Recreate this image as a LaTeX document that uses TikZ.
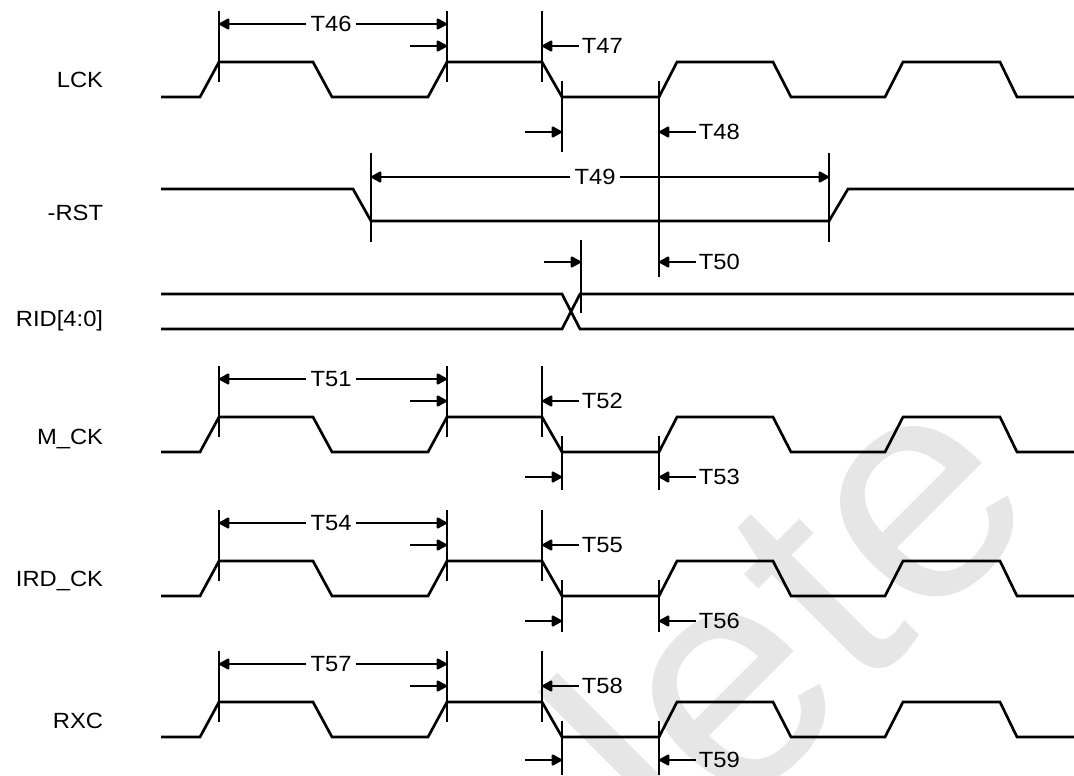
\documentclass[tikz,border=0pt]{standalone}
\usepackage{fontspec}
\setmainfont{Liberation Sans}
\newfontfamily\lblfont[FakeStretch=1.08]{Liberation Sans}
\usetikzlibrary{arrows.meta}
\definecolor{wmgrey}{HTML}{E6E6E6}
\tikzset{
  every picture/.style={x=0.75pt, y=-0.75pt},
  wave/.style={line width=2pt},
  tick/.style={line width=2pt},
  dim/.style={line width=1.4pt, -{Triangle[length=8.5pt, width=9pt, round]}},
  lbl/.style={font=\lblfont\fontsize{16.5}{18}\selectfont, inner sep=2pt},
  sig/.style={lbl, anchor=east},
}

\begin{document}
\begin{tikzpicture}
  \useasboundingbox (0,0) rectangle (1074,775);
  % watermark
  \node[text=wmgrey, rotate=45, anchor=base, font=\fontsize{238}{238}\selectfont] (wm) at (866,690) {lete};
  % clock rows: LCK, M_CK, IRD_CK, RXC
  \foreach \n/\yh/\ly/\lab/\a/\b/\c/\lo/\db/\eb in
    {1/62/80/LCK/46/47/48/132/152/277, 2/417/439/M\_CK/51/52/53/477/490/490,
     3/561/581/IRD\_CK/54/55/56/621/632/632, 4/702/721/RXC/57/58/59/760/775/775}
  { \pgfmathsetmacro\yl{\yh+35}
    \node[sig] (s\n) at (106,\ly) {\lab};
    \draw[wave] (161,\yl) -- (200,\yl) -- (219,\yh) -- (313,\yh) -- (332,\yl) -- (428,\yl)
      -- (447,\yh) -- (542,\yh) -- (562,\yl) -- (659,\yl) -- (677,\yh) -- (773,\yh)
      -- (791,\yl) -- (885,\yl) -- (903,\yh) -- (1000,\yh) -- (1017,\yl) -- (1074,\yl);
    \draw[tick] (219,\yh-51) -- (219,\yh+20);
    \draw[tick] (447,\yh-51) -- (447,\yh+20);
    \draw[tick] (542,\yh-51) -- (542,\yh+20);
    \draw[tick] (562,\yh+19) -- (562,\db);
    \draw[tick] (659,\yh+19) -- (659,\eb);
    \coordinate (pa\n) at (219,\yh-38);
    \coordinate (pb\n) at (447,\yh-38);
    \coordinate (qs\n) at (410,\yh-16);
    \coordinate (qb\n) at (447,\yh-16);
    \coordinate (qc\n) at (542,\yh-16);
    \coordinate (rs\n) at (525,\lo);
    \coordinate (rd\n) at (562,\lo);
    \coordinate (re\n) at (659,\lo);
    \node[lbl, inner xsep=3pt] (t\a) at (331,\yh-38) {T\a};
    \draw[dim] (t\a.west) -- (pa\n);
    \draw[dim] (t\a.east) -- (pb\n);
    \draw[dim] (qs\n) -- (qb\n);
    \node[lbl, anchor=west] (t\b) at (579,\yh-16) {T\b};
    \draw[dim] (t\b.west) -- (qc\n);
    \draw[dim] (rs\n) -- (rd\n);
    \node[lbl, anchor=west] (t\c) at (696,\lo) {T\c};
    \draw[dim] (t\c.west) -- (re\n);
  }
  % -RST
  \node[sig] (srst) at (106,213) {-RST};
  \draw[wave] (161,189) -- (353,189) -- (371,221) -- (829,221) -- (848,189) -- (1074,189);
  \draw[tick] (371,153) -- (371,242);
  \draw[tick] (829,153) -- (829,242);
  \coordinate (ra) at (371,177);
  \coordinate (rb) at (829,177);
  \node[lbl, inner xsep=3pt] (t49) at (595,177) {T49};
  \draw[dim] (t49.west) -- (ra);
  \draw[dim] (t49.east) -- (rb);
  \coordinate (rc) at (659,262);
  \node[lbl, anchor=west] (t50) at (696,262) {T50};
  \draw[dim] (t50.west) -- (rc);
  % RID[4:0]
  \node[sig] (srid) at (106,321) {RID[4:0]};
  \draw[wave] (161,294) -- (562,294) -- (580,329) -- (1074,329);
  \draw[wave] (161,329) -- (562,329) -- (580,294) -- (1074,294);
  \draw[tick] (581,240) -- (581,313);
  \coordinate (ds) at (544,262);
  \coordinate (dd) at (581,262);
  \draw[dim] (ds) -- (dd);
\end{tikzpicture}
\end{document}
